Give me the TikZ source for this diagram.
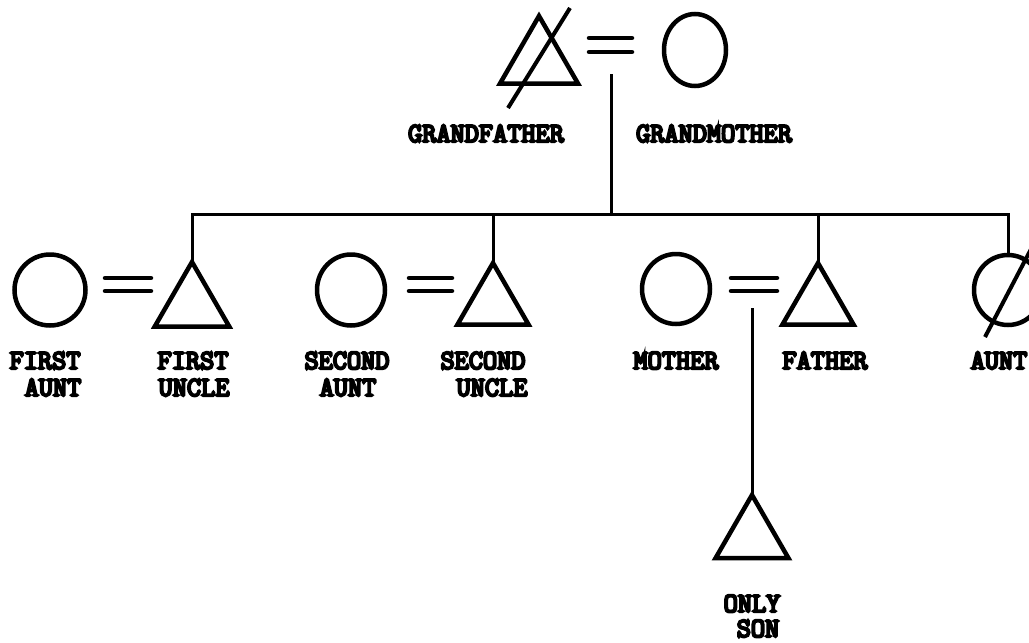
\documentclass[tikz,border=0pt]{standalone}
\usepackage{fontspec}
\newfontfamily\typewriter[FakeBold=8]{Latin Modern Mono}
\usetikzlibrary{shapes.geometric}
\begin{document}
\begin{tikzpicture}[x=1pt,y=-1pt,
  male/.style={regular polygon, regular polygon sides=3, draw, line width=4.5pt,
    inner sep=0pt, outer sep=0pt, minimum size=#1},
  male/.default=86pt,
  female/.style={ellipse, draw, line width=4.5pt, inner sep=0pt, outer sep=0pt,
    minimum width=#1, minimum height=70pt},
  female/.default=68pt,
  conn/.style={line width=3pt},
  eqline/.style={line width=4.5pt, line cap=round},
  slash/.style={line width=4pt},
  lbl/.style={font=\typewriter\fontsize{27.5}{27.5}\selectfont, inner sep=0pt, anchor=base}]
\useasboundingbox (0,0) rectangle (1029,643);

% grandparents
\node[male=90pt] (gf) at (539,61) {};
\node[female=62pt, minimum height=72pt] (gm) at (695,50) {};
\draw[slash] (570,8) -- (508,108);
\draw[eqline] (589,38) -- (632,38) (589,52) -- (632,52);
\node[lbl] (gfl) at (486,142) {GRANDFATHER};
\node[lbl] (gml) at (714,142) {GRANDMOTHER};

% children's generation
\node[female=71pt, minimum height=71pt] (fa) at (50,290) {};
\node[male=86pt] (fu) at (192,305) {};
\node[female=68pt, minimum height=71pt] (sa) at (351,290) {};
\node[male=82pt] (su) at (493,304) {};
\node[female=68pt, minimum height=70pt] (mo) at (676,289) {};
\node[male=82pt] (fa2) at (818,304) {};
\node[female=68pt] (au) at (1008,290) {};
\draw[slash] (985,337) -- (1041,230);

% marriage signs
\draw[eqline] (105,278) -- (151,278) (105,291) -- (151,291);
\draw[eqline] (409,278) -- (452,278) (409,291) -- (452,291);
\draw[eqline] (731,278) -- (777,278) (731,291) -- (777,291);

% descent lines
\coordinate (gp) at (611,74);
\coordinate (sib) at (611,214);
\draw[conn] (gp) -- (sib);
\draw[conn] (fu.corner 1) -- (fu.corner 1 |- sib) -- (au.north |- sib) -- (au.north);
\draw[conn] (su.corner 1) -- (su.corner 1 |- sib);
\draw[conn] (fa2.corner 1) -- (fa2.corner 1 |- sib);

% only son
\node[male=84pt] (son) at (752,537) {};
\coordinate (mf) at (752,308);
\draw[conn] (mf) -- (son.corner 1);

% labels
\node[lbl] (l1) at (45,369) {FIRST};
\node[lbl] (l2) at (53,396) {AUNT};
\node[lbl] (l3) at (193,369) {FIRST};
\node[lbl] (l4) at (194,396) {UNCLE};
\node[lbl] (l5) at (347,369) {SECOND};
\node[lbl] (l6) at (348,396) {AUNT};
\node[lbl] (l7) at (483,369) {SECOND};
\node[lbl] (l8) at (492,396) {UNCLE};
\node[lbl] (l9) at (676,369) {MOTHER};
\node[lbl] (l10) at (825,369) {FATHER};
\node[lbl] (l11) at (999,369) {AUNT};
\node[lbl] (l12) at (752,612) {ONLY};
\node[lbl] (l13) at (758,637) {SON};
\end{tikzpicture}
\end{document}
